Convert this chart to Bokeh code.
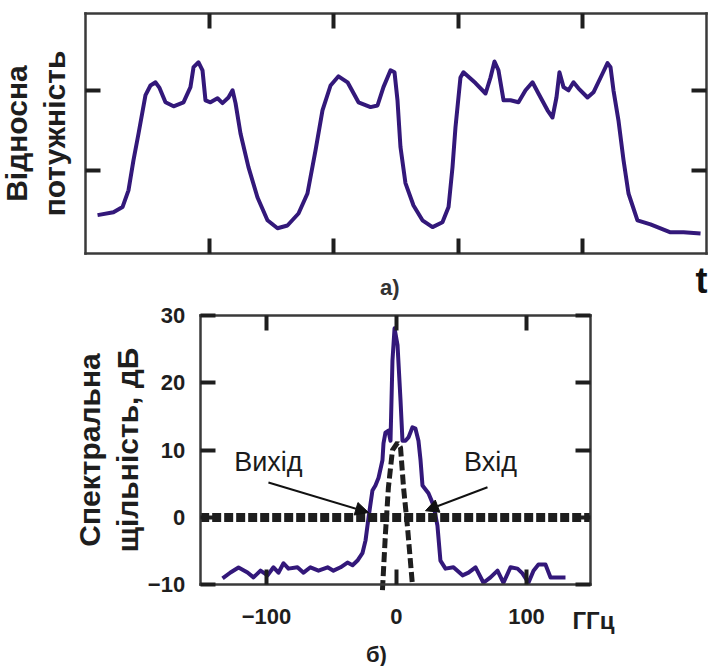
from bokeh.plotting import figure
from bokeh.models import LinearAxis, Label, Arrow, NormalHead
from bokeh.layouts import column
from bokeh.embed import file_html
from bokeh.resources import INLINE

# ---------------- data: (а) relative power vs time ----------------
t_top = [0.97, 2.25, 2.98, 3.46, 3.86, 4.27, 4.83, 5.23, 5.64, 5.96,
         6.44, 7.09, 7.89, 8.45, 8.70, 9.10, 9.42, 9.66, 10.06, 10.63,
         11.03, 11.51, 11.84, 12.08, 12.48, 13.12, 13.85, 14.65, 15.46, 16.26,
         17.15, 17.87, 18.52, 19.08, 19.73, 20.37, 21.10, 21.98, 22.95, 23.51,
         23.99, 24.56, 24.88, 25.12, 25.36, 25.76, 26.41, 27.13, 27.94, 28.74,
         29.23, 29.55, 29.79, 30.19, 30.43, 31.40, 32.21, 32.61, 32.93, 33.25,
         33.66, 34.22, 34.86, 35.43, 35.99, 36.47, 37.20, 37.60, 37.92, 38.16,
         38.49, 38.89, 39.29, 39.69, 40.42, 40.90, 41.63, 42.03, 42.27, 42.51,
         42.91, 43.32, 43.72, 44.44, 45.49, 47.10, 48.15, 49.52]
p_top = [0.44, 0.475, 0.54, 0.75, 1.125, 1.46, 1.94, 2.06, 2.10, 2.03,
         1.85, 1.80, 1.85, 2.04, 2.29, 2.35, 2.25, 1.875, 1.85, 1.90,
         1.84, 1.91, 2.00, 1.84, 1.46, 1.04, 0.66, 0.375, 0.275, 0.31,
         0.46, 0.71, 1.25, 1.75, 2.06, 2.175, 2.10, 1.85, 1.79, 1.81,
         2.04, 2.25, 2.225, 1.875, 1.29, 0.84, 0.56, 0.375, 0.29, 0.35,
         0.54, 1.04, 1.54, 2.16, 2.225, 2.09, 1.96, 2.16, 2.36, 2.25,
         1.875, 1.875, 1.85, 2.00, 2.10, 1.96, 1.75, 1.66, 1.91, 2.225,
         2.04, 2.00, 2.10, 2.025, 1.91, 1.975, 2.21, 2.34, 2.29, 2.00,
         1.625, 1.125, 0.71, 0.375, 0.325, 0.225, 0.225, 0.21]
top_xticks = [10, 20, 30, 40]
top_yticks = [1, 2]
top_box_t = (0, 50)          # time extent of panel (а)
top_box_p = (-0.04, 2.96)    # power extent of panel (а)

# ---------------- data: (б) spectral density ----------------
f_out = [-133.8, -127.7, -121.5, -114.6, -110.0, -104.6, -99.2, -94.6, -90.8, -86.9,
         -83.1, -76.2, -71.5, -66.2, -60.0, -53.0, -48.5, -43.0, -37.7, -33.8,
         -30.0, -26.2, -23.8, -21.5, -18.5, -16.2, -13.8, -10.8, -10.0, -8.5,
         -6.2, -4.6, -3.1, -1.5, 0.8, 3.1, 4.6, 6.9, 9.2, 12.3,
         14.6, 16.9, 18.5, 20.0, 24.6, 28.5, 31.5, 33.8, 37.7, 43.8,
         50.8, 55.4, 60.8, 66.9, 72.3, 77.7, 82.3, 87.7, 93.1, 96.9,
         101.5, 105.4, 109.2, 114.6, 118.5, 123.8, 130.0]
db_out = [-9.06, -8.17, -7.43, -8.17, -8.9, -7.9, -8.6, -7.4, -8.2, -6.8,
          -7.6, -7.4, -8.2, -7.4, -7.9, -7.4, -7.9, -7.4, -6.7, -7.1,
          -6.4, -5.3, -3.4, 0.0, 4.0, 4.75, 5.9, 8.5, 11.0, 12.6,
          12.9, 11.4, 23.3, 28.1, 25.6, 17.4, 11.4, 11.4, 11.9, 13.4,
          13.2, 11.4, 8.5, 4.75, 3.6, 1.8, -1.2, -6.4, -7.6, -7.4,
          -8.6, -8.2, -7.4, -9.7, -8.9, -7.9, -9.7, -7.4, -7.6, -8.3,
          -9.7, -7.9, -7.0, -7.0, -8.9, -8.9, -8.9]
f_in = [-10.8, -8.5, -6.2, -3.1, 0.8, 3.1, 5.4, 8.5, 12.3]
db_in = [-10.8, -2.4, 4.5, 10.0, 11.1, 10.4, 4.5, -1.5, -10.1]
ref_level = 0
bot_xticks = [-100, 0, 100]
bot_yticks = [-10, 0, 10, 20, 30]
bot_box_f = (-151, 149)      # frequency extent of panel (б)
bot_box_db = (-10, 30)       # dB extent of panel (б)

PURPLE = "#33187a"
DARK = "#1e1e1e"
EDGE = "#3a3a3a"
FONT = "Liberation Sans"


def style_axis(ax, ticks, loc, bounds, show_labels=False):
    ax.ticker = ticks
    ax.fixed_location = loc
    ax.bounds = bounds
    ax.major_tick_in = 15
    ax.major_tick_out = 0
    ax.major_tick_line_width = 4
    ax.major_tick_line_color = DARK
    ax.minor_tick_line_color = None
    ax.axis_line_color = EDGE
    ax.axis_line_width = 2.5
    ax.axis_line_cap = "square"
    if show_labels:
        ax.major_label_text_font = FONT
        ax.major_label_text_font_style = "bold"
        ax.major_label_text_font_size = "22px"
        ax.major_label_text_color = DARK
    else:
        ax.major_label_overrides = {t: "" for t in ticks}
        ax.major_label_standoff = 0


def style_ylabel(ax, text, standoff):
    ax.axis_label = text
    ax.axis_label_text_font = FONT
    ax.axis_label_text_font_style = "bold"
    ax.axis_label_text_font_size = "30px"
    ax.axis_label_text_color = DARK
    ax.axis_label_standoff = standoff
    ax.axis_label_text_line_height = 1.15


def base_figure(w, h, xr, yr):
    p = figure(width=w, height=h, x_range=xr, y_range=yr,
               output_backend="svg", toolbar_location=None,
               min_border_left=0, min_border_right=0,
               min_border_top=0, min_border_bottom=0)
    p.grid.visible = False
    p.outline_line_color = None
    p.background_fill_color = "white"
    p.border_fill_color = "white"
    return p


# ---------------- top panel (а) ----------------
p1 = base_figure(708, 300, (-6.844, 50.161), (-0.6275, 3.1225))
style_axis(p1.xaxis[0], top_xticks, top_box_p[0], top_box_t)
style_axis(p1.yaxis[0], top_yticks, top_box_t[0], top_box_p)
a_top = LinearAxis()
p1.add_layout(a_top, "above")
style_axis(a_top, top_xticks, top_box_p[1], top_box_t)
a_right = LinearAxis()
p1.add_layout(a_right, "right")
style_axis(a_right, top_yticks, top_box_t[1], top_box_p)
style_ylabel(p1.yaxis[0], "Відносна\nпотужність", 15)

p1.line(t_top, p_top, line_width=4, color=PURPLE, line_join="round")

p1.add_layout(Label(x=24.5, y=-0.465, text="а)", text_font=FONT, text_font_style="bold",
                    text_font_size="22px", text_color="#333333",
                    text_align="center", text_baseline="middle"))
p1.add_layout(Label(x=49.6, y=-0.378, text="t", text_font=FONT, text_font_style="bold",
                    text_font_size="36px", text_color="#111111",
                    text_align="center", text_baseline="middle"))

# ---------------- bottom panel (б) ----------------
p2 = base_figure(708, 366, (-304.6, 240.0), (-22.14, 32.24))
style_axis(p2.xaxis[0], bot_xticks, bot_box_db[0], bot_box_f, show_labels=True)
p2.xaxis[0].major_label_standoff = 24
style_axis(p2.yaxis[0], bot_yticks, bot_box_f[0], bot_box_db, show_labels=True)
p2.yaxis[0].major_label_standoff = 15
b_top = LinearAxis()
p2.add_layout(b_top, "above")
style_axis(b_top, bot_xticks, bot_box_db[1], bot_box_f)
b_right = LinearAxis()
p2.add_layout(b_right, "right")
style_axis(b_right, bot_yticks, bot_box_f[1], bot_box_db)
style_ylabel(p2.yaxis[0], "Спектральна\nщільність, дБ", 1)

p2.line(f_out, db_out, line_width=4, color=PURPLE, line_join="round")
p2.line(f_in, db_in, line_width=5, color=DARK, line_dash="10 4")
p2.line(list(bot_box_f), [ref_level, ref_level], line_color=DARK,
        line_width=9, line_dash="9 3")

p2.add_layout(Arrow(end=NormalHead(size=13, fill_color="#111111", line_color="#111111"),
                    x_start=-98.5, y_start=5.2, x_end=-21.5, y_end=0.74,
                    line_width=2, line_color="#111111"))
p2.add_layout(Arrow(end=NormalHead(size=13, fill_color="#111111", line_color="#111111"),
                    x_start=70, y_start=4.5, x_end=22.3, y_end=1.0,
                    line_width=2, line_color="#111111"))
p2.add_layout(Label(x=-98.5, y=8.3, text="Вихід", text_font=FONT,
                    text_font_size="27px", text_color="#1a1a1a",
                    text_align="center", text_baseline="middle"))
p2.add_layout(Label(x=72.3, y=8.3, text="Вхід", text_font=FONT,
                    text_font_size="27px", text_color="#1a1a1a",
                    text_align="center", text_baseline="middle"))
p2.add_layout(Label(x=151.5, y=-15.3, text="ГГц", text_font=FONT, text_font_style="bold",
                    text_font_size="24px", text_color=DARK,
                    text_align="center", text_baseline="middle"))
p2.add_layout(Label(x=-15.4, y=-20.36, text="б)", text_font=FONT, text_font_style="bold",
                    text_font_size="22px", text_color=DARK,
                    text_align="center", text_baseline="middle"))

layout = column(p1, p2, spacing=0)
open("out.html", "w").write(file_html(layout, INLINE))
